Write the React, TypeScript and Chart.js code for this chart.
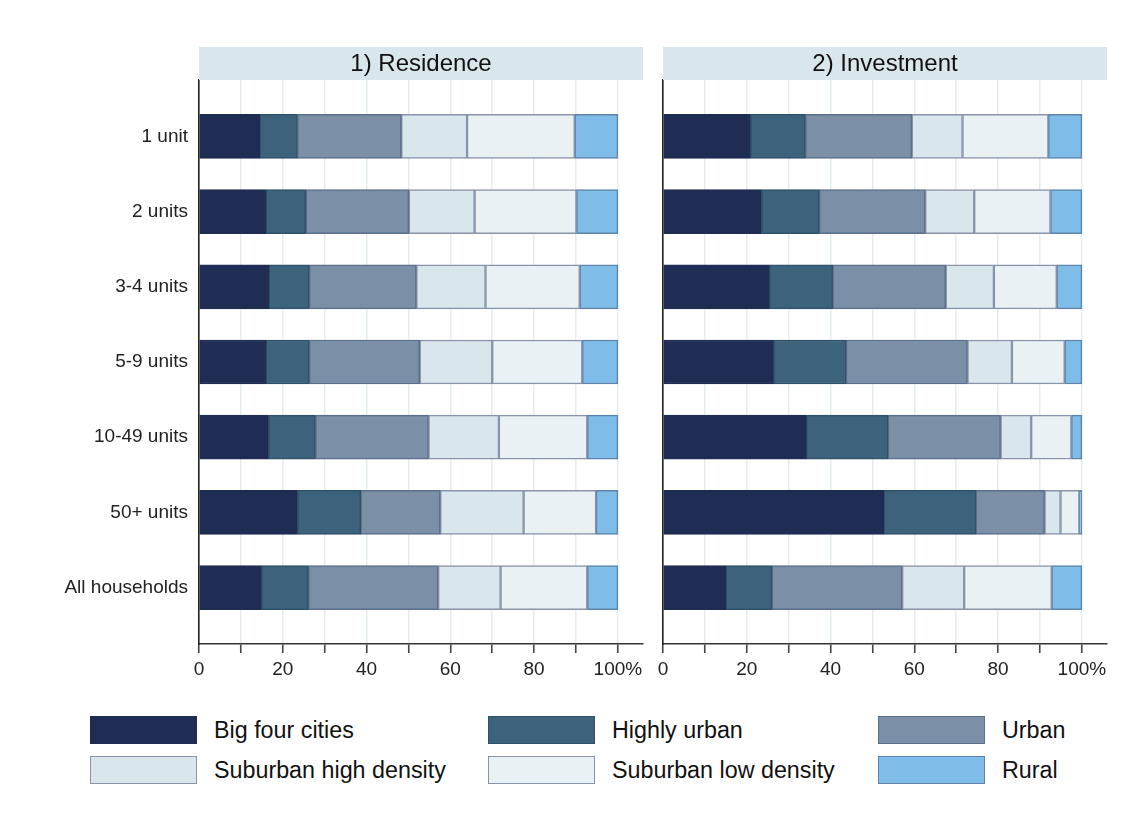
import React, { useEffect, useRef } from "react";
import { Chart, registerables } from "chart.js";

Chart.register(...registerables);

const FONT = '"Liberation Sans", Arial, Helvetica, sans-serif';

// Dwelling size categories (rows, top to bottom)
const categories = [
  "1 unit",
  "2 units",
  "3-4 units",
  "5-9 units",
  "10-49 units",
  "50+ units",
  "All households",
];

const seriesNames = [
  "Big four cities",
  "Highly urban",
  "Urban",
  "Suburban high density",
  "Suburban low density",
  "Rural",
];

const fillColors = ["#1f2d55", "#3d627c", "#7b8fa6", "#d9e6ec", "#e9f1f4", "#7fbde8"];
const edgeColors = ["#1f2d55", "#2f5169", "#5b6e8a", "#8894a9", "#8894a9", "#5d84ad"];

// 1) Residence — shares in percent
const resBigFour = [14.5, 16.0, 16.7, 16.0, 16.6, 23.5, 14.9];
const resHighlyUrban = [9.0, 9.5, 9.6, 10.3, 11.2, 15.1, 11.2];
const resUrban = [24.8, 24.6, 25.6, 26.4, 27.0, 19.0, 31.0];
const resSubHigh = [15.7, 15.7, 16.5, 17.3, 16.8, 19.9, 14.9];
const resSubLow = [25.7, 24.3, 22.5, 21.5, 21.1, 17.3, 20.7];
const resRural = [10.3, 9.9, 9.1, 8.5, 7.3, 5.2, 7.3];

// 2) Investment — shares in percent
const invBigFour = [20.9, 23.5, 25.4, 26.4, 34.2, 52.7, 15.0];
const invHighlyUrban = [13.1, 13.8, 15.1, 17.3, 19.5, 22.0, 11.0];
const invUrban = [25.4, 25.3, 27.0, 29.0, 26.9, 16.4, 31.1];
const invSubHigh = [12.1, 11.7, 11.5, 10.6, 7.3, 3.8, 14.8];
const invSubLow = [20.5, 18.2, 15.0, 12.6, 9.6, 4.5, 20.9];
const invRural = [8.0, 7.5, 6.0, 4.1, 2.5, 0.6, 7.2];

const residenceSeries = [resBigFour, resHighlyUrban, resUrban, resSubHigh, resSubLow, resRural];
const investmentSeries = [invBigFour, invHighlyUrban, invUrban, invSubHigh, invSubLow, invRural];

// Labelled x ticks (tick marks every 10)
const xTickLabels = [0, 20, 40, 60, 80, 100];

// Shaded strip with the panel title above the plot area
const panelHeader = {
  id: "panelHeader",
  afterDraw(chart: any, _args: any, opts: any) {
    const { ctx, chartArea } = chart;
    const h = 33;
    ctx.save();
    ctx.fillStyle = "#d9e6ec";
    ctx.fillRect(chartArea.left, chartArea.top - h, chartArea.right - chartArea.left, h);
    ctx.fillStyle = "#111";
    ctx.font = `24px ${FONT}`;
    ctx.textAlign = "center";
    ctx.textBaseline = "middle";
    ctx.fillText(opts.text, (chartArea.left + chartArea.right) / 2, chartArea.top - h / 2 + 1);
    ctx.restore();
  },
};

function makeConfig(title: string, series: number[][], showLabels: boolean): any {
  return {
    type: "bar",
    data: {
      labels: categories.map((_, i) => i),
      datasets: seriesNames.map((name, k) => ({
        label: name,
        data: series[k],
        backgroundColor: fillColors[k],
        borderColor: edgeColors[k],
        borderWidth: 1.5,
        borderSkipped: false,
        barThickness: 44,
      })),
    },
    options: {
      indexAxis: "y",
      responsive: false,
      animation: false,
      layout: { padding: { top: 80, right: 8, left: 0, bottom: 0 } },
      plugins: {
        legend: { display: false },
        tooltip: { enabled: false },
        panelHeader: { text: title },
      },
      scales: {
        x: {
          type: "linear",
          stacked: true,
          min: 0,
          max: 106,
          grid: {
            color: (c: any) => (c.tick && c.tick.value > 100 ? "rgba(0,0,0,0)" : "#e4edf1"),
            tickColor: (c: any) => (c.tick && c.tick.value > 100 ? "rgba(0,0,0,0)" : "#444"),
            lineWidth: 1.5,
            tickLength: 9,
            tickWidth: 1.6,
          },
          border: { color: "#333", width: 1.6 },
          ticks: {
            stepSize: 10,
            includeBounds: false,
            autoSkip: false,
            maxRotation: 0,
            color: "#222",
            padding: 5,
            font: { size: 19, family: FONT },
            callback: (v: number) =>
              xTickLabels.includes(v) ? (v === 100 ? "100%" : String(v)) : "",
          },
          afterFit: (s: any) => {
            s.height = 46;
          },
        },
        y: {
          type: "linear",
          stacked: true,
          reverse: true,
          offset: false,
          min: -0.75,
          max: 6.75,
          grid: { display: false, drawTicks: false },
          border: { color: "#222", width: 1.6 },
          ticks: {
            display: showLabels,
            stepSize: 1,
            autoSkip: false,
            color: "#222",
            padding: 11,
            font: { size: 19, family: FONT },
            callback: (v: number) =>
              Number.isInteger(v) && categories[v] !== undefined ? categories[v] : "",
          },
          afterFit: (s: any) => {
            s.width = showLabels ? 199 : 12;
          },
        },
      },
    },
    plugins: [panelHeader],
  };
}

function Panel(props: {
  left: number;
  width: number;
  title: string;
  series: number[][];
  showLabels: boolean;
}) {
  const ref = useRef<HTMLCanvasElement | null>(null);
  useEffect(() => {
    if (!ref.current) return;
    const chart = new Chart(ref.current, makeConfig(props.title, props.series, props.showLabels));
    return () => chart.destroy();
  }, []);
  return (
    <canvas
      ref={ref}
      width={props.width}
      height={690}
      style={{ position: "absolute", left: props.left, top: 0, width: props.width, height: 690 }}
    />
  );
}

const legendCols = [90, 488, 878];
const legendRows = [716, 756];

export default function App() {
  return (
    <div
      style={{
        position: "absolute",
        left: 0,
        top: 0,
        width: 1135,
        height: 827,
        background: "#fff",
        fontFamily: FONT,
      }}
    >
      <Panel left={0} width={651} title="1) Residence" series={residenceSeries} showLabels={true} />
      <Panel left={651} width={464} title="2) Investment" series={investmentSeries} showLabels={false} />
      {seriesNames.map((name, k) => {
        const col = k % 3;
        const row = Math.floor(k / 3);
        const x = legendCols[col];
        const y = legendRows[row];
        return (
          <div key={name}>
            <div
              style={{
                position: "absolute",
                left: x,
                top: y,
                width: 107,
                height: 28,
                boxSizing: "border-box",
                background: fillColors[k],
                border: `1.5px solid ${edgeColors[k]}`,
              }}
            />
            <div
              style={{
                position: "absolute",
                left: x + 124,
                top: y,
                height: 28,
                lineHeight: "28px",
                fontSize: 23.3,
                color: "#111",
                whiteSpace: "nowrap",
              }}
            >
              {name}
            </div>
          </div>
        );
      })}
    </div>
  );
}
